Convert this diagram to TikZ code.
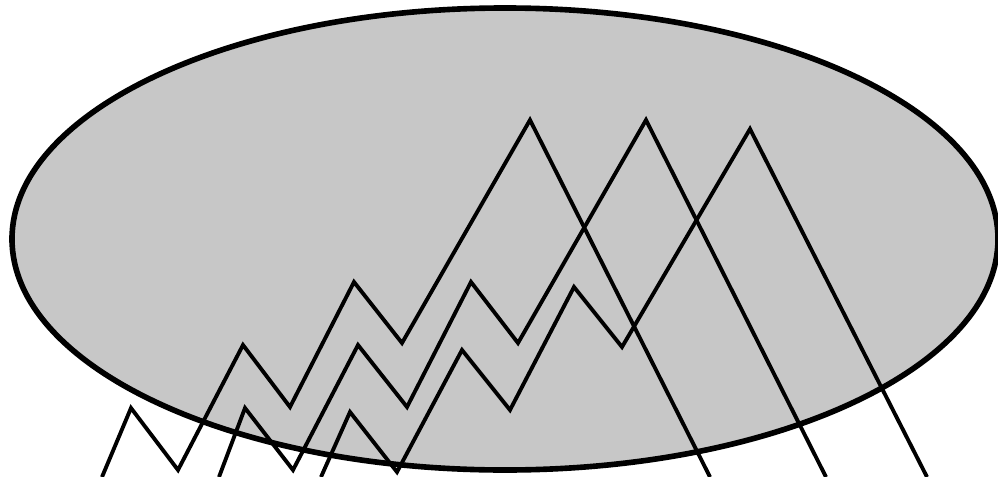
\documentclass[tikz,border=0pt]{standalone}
\usepackage{tikz}

\begin{document}
\begin{tikzpicture}[
    x=0.02cm, y=-0.02cm,
    blob/.style={draw=black, fill=black!22, line width=3.2pt},
    zigzag/.style={draw=black, line width=2.2pt, line join=miter}
]
\useasboundingbox (0,0) rectangle (998,477);
\path[blob] (505,239) ellipse [x radius=493, y radius=231];
\draw[zigzag] (102,477) -- (131,408) -- (178,470) -- (243,345) -- (290,407)
    -- (354,282) -- (402,343) -- (530,120) -- (710,477);
\draw[zigzag] (219,477) -- (245,408) -- (293,470) -- (358,345) -- (407,407)
    -- (471,282) -- (518,343) -- (646,120) -- (826,477);
\draw[zigzag] (321,477) -- (350,412) -- (397,472) -- (462,350) -- (510,410)
    -- (574,287) -- (622,347) -- (750,129) -- (927,477);
\end{tikzpicture}
\end{document}
